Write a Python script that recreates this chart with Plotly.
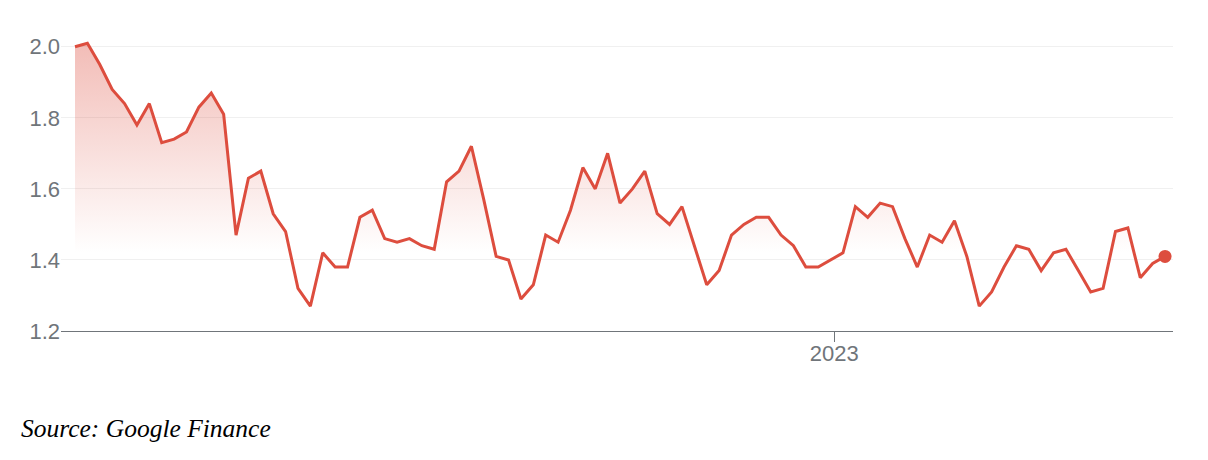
import pandas as pd
import plotly.graph_objects as go

# Weekly closing values
start_date = "2021-10-29"
values = [
    2.00, 2.01, 1.95, 1.88, 1.84, 1.78, 1.84, 1.73, 1.74, 1.76,
    1.83, 1.87, 1.81, 1.47, 1.63, 1.65, 1.53, 1.48, 1.32, 1.27,
    1.42, 1.38, 1.38, 1.52, 1.54, 1.46, 1.45, 1.46, 1.44, 1.43,
    1.62, 1.65, 1.72, 1.57, 1.41, 1.40, 1.29, 1.33, 1.47, 1.45,
    1.54, 1.66, 1.60, 1.70, 1.56, 1.60, 1.65, 1.53, 1.50, 1.55,
    1.44, 1.33, 1.37, 1.47, 1.50, 1.52, 1.52, 1.47, 1.44, 1.38,
    1.38, 1.40, 1.42, 1.55, 1.52, 1.56, 1.55, 1.46, 1.38, 1.47,
    1.45, 1.51, 1.41, 1.27, 1.31, 1.38, 1.44, 1.43, 1.37, 1.42,
    1.43, 1.37, 1.31, 1.32, 1.48, 1.49, 1.35, 1.39, 1.41,
]
dates = pd.date_range(start_date, periods=len(values), freq="7D")

y_ticks = [1.2, 1.4, 1.6, 1.8, 2.0]
y_tick_labels = ["1.2", "1.4", "1.6", "1.8", "2.0"]
x_ticks = ["2023-01-01"]
x_tick_labels = ["2023"]
source_text = "Source: Google Finance"

RED = "rgb(221,77,62)"

fig = go.Figure()
fig.add_trace(go.Scatter(
    x=dates, y=values, mode="lines",
    line=dict(color=RED, width=3),
    fill="tozeroy",
    fillgradient=dict(
        type="vertical",
        start=1.42, stop=2.02,
        colorscale=[[0, "rgba(221,77,62,0)"], [1, "rgba(221,77,62,0.38)"]],
    ),
    hoverinfo="skip", showlegend=False,
))
fig.add_trace(go.Scatter(
    x=[dates[-1]], y=[values[-1]], mode="markers",
    marker=dict(color=RED, size=13),
    hoverinfo="skip", showlegend=False,
))

fig.update_layout(
    width=1200, height=452,
    margin=dict(l=53, r=35, t=21, b=129),
    plot_bgcolor="white", paper_bgcolor="white",
    font=dict(family="Liberation Sans, Arial, sans-serif", size=22, color="#70757a"),
    xaxis=dict(
        type="date",
        range=["2021-10-21 02:00", "2023-07-11 12:00"],
        tickvals=x_ticks, ticktext=x_tick_labels,
        ticks="outside", ticklen=10, tickcolor="#70757a", tickwidth=1,
        ticklabelstandoff=-7,
        showgrid=False, zeroline=False,
        showline=True, linecolor="#70757a", linewidth=1,
    ),
    yaxis=dict(
        range=[1.2, 2.05],
        tickvals=y_ticks, ticktext=y_tick_labels,
        showgrid=True, gridcolor="#f0f0f0", gridwidth=1,
        zeroline=False, showline=False, ticks="",
    ),
    annotations=[dict(
        text="<i>" + source_text + "</i>",
        xref="paper", yref="paper",
        x=-0.0378, y=-0.3228,
        xanchor="left", yanchor="middle", showarrow=False,
        font=dict(family="Liberation Serif, Times New Roman, serif", size=25.5, color="black"),
    )],
)

fig.write_html("out.html")
